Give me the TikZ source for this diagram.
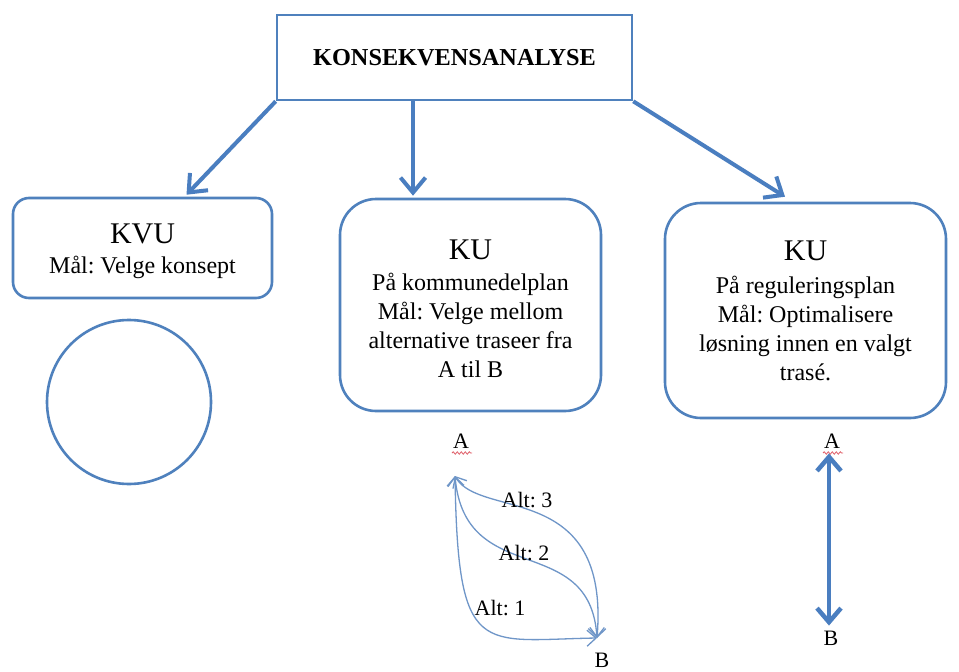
\documentclass[tikz,border=0pt]{standalone}
\usepackage{fontspec}
\setmainfont{Liberation Serif}
\frenchspacing
\usetikzlibrary{arrows.meta,calc,decorations.pathmorphing}
\definecolor{boxblue}{HTML}{4F81BD}
\definecolor{arrowblue}{HTML}{4A7EC0}
\definecolor{thinblue}{HTML}{6F96C8}
\definecolor{squiggle}{HTML}{E0606A}
\newcommand{\headsize}{\fontsize{30}{34}\selectfont}
\tikzset{
  frame/.style={draw=boxblue, line width=2.6pt, fill=white},
  roundbox/.style={frame, rounded corners=#1, align=center, inner sep=0pt,
    font=\fontsize{24}{29}\selectfont},
  bigarrow/.style={draw=arrowblue, line width=4pt,
    -{Straight Barb[length=15pt,width=25pt,line width=4pt]}},
  dblarrow/.style={draw=arrowblue, line width=4.5pt,
    {Straight Barb[length=14pt,width=24pt,line width=4.5pt]}-{Straight Barb[length=14pt,width=24pt,line width=4.5pt]}},
  altline/.style={draw=thinblue, line width=1.3pt,
    {Straight Barb[length=9pt,width=16pt,line width=1.3pt]}-{Straight Barb[length=9pt,width=16pt,line width=1.3pt]}},
  label/.style={font=\fontsize{22}{26}\selectfont, inner sep=0pt},
  spell/.style={draw=squiggle, line width=0.8pt, decorate,
    decoration={snake, amplitude=1.2pt, segment length=4pt}}
}
\begin{document}
\begin{tikzpicture}[x=1pt, y=-1pt]
\useasboundingbox[fill=white] (0,0) rectangle (959,672);

% top box
\node[frame, minimum width=355pt, minimum height=85pt, inner sep=0pt,
      font=\bfseries\fontsize{24.3}{28}\selectfont] (top) at (454.5,57.5) {KONSEKVENSANALYSE};

% three study boxes (the rule in the first line lowers the text block a little)
\node[roundbox=16pt, minimum width=259pt, minimum height=100pt] (kvu) at (142.5,248)
  {\rule{0pt}{26pt}{\headsize KVU}\\[1pt]
   Mål: Velge konsept};

\node[roundbox=36pt, minimum width=261pt, minimum height=212pt] (kumid) at (470.5,305)
  {\rule{0pt}{28pt}{\headsize KU}\\[2pt]
   På kommunedelplan\\
   Mål: Velge mellom\\
   alternative traseer fra\\
   A til B};

\node[roundbox=36pt, minimum width=281pt, minimum height=215pt] (kureg) at (805.5,310.5)
  {{\headsize KU}\\[4pt]
   På reguleringsplan\\
   Mål: Optimalisere\\
   løsning innen en valgt\\
   trasé.};

% circle under KVU
\node[circle, draw=boxblue, line width=2.6pt, minimum size=164pt] (ring) at (129,402) {};

% arrows from the top box
\draw[bigarrow] (top.south west) -- ($(kvu.north)+(44,-2)$);
\draw[bigarrow] ($(top.south)+(-41.5,0)$) -- ($(kumid.north)+(-57.5,-2)$);
\draw[bigarrow] (top.south east) -- ($(kureg.north)+(-20.5,-5)$);

% alternative routes A -> B
\node[label] (amid) at (461,441) {A};
\node[label] (bmid) at (602,660) {B};
\draw[spell] (452,453) -- (472,453);
\coordinate (pa) at (455,476);
\coordinate (pb) at (597,638);
\draw[altline] (pa) .. controls (480,520) and (610,480) .. (pb);
\draw[altline] (pa) .. controls (465,590) and (590,530) .. (pb);
\draw[altline] (pa) .. controls (458,660) and (480,640) .. (pb);
\node[label] (alt3) at (527,500) {Alt: 3};
\node[label] (alt2) at (524,553) {Alt: 2};
\node[label] (alt1) at (500,608) {Alt: 1};

% optimised single route
\node[label] (areg) at (832,441) {A};
\node[label] (breg) at (831,638) {B};
\draw[spell] (823,453) -- (843,453);
\draw[dblarrow] ($(areg.south)+(-3,5)$) -- ($(breg.north)+(-2,-5)$);
\end{tikzpicture}
\end{document}
